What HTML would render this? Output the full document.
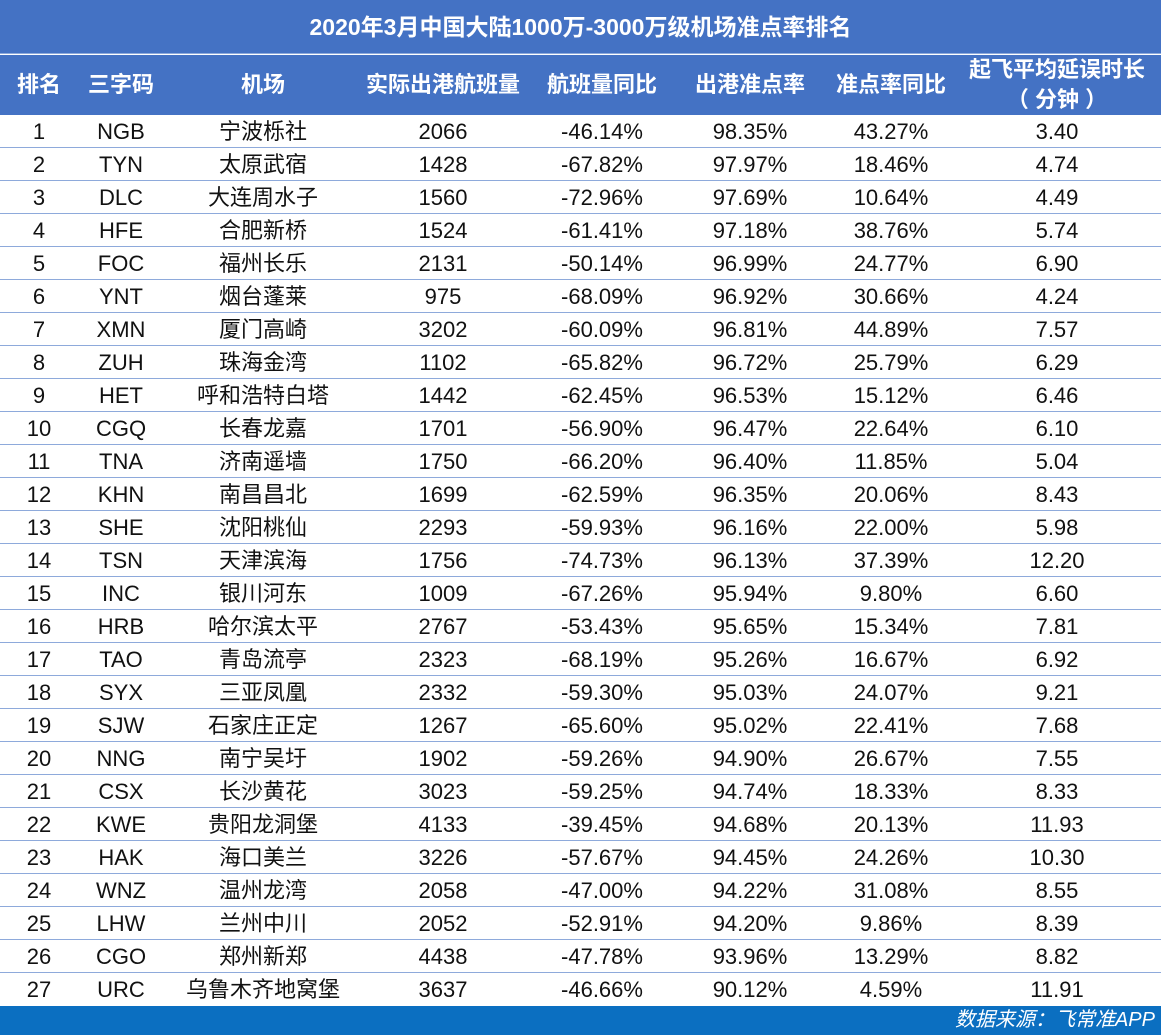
<!DOCTYPE html>
<html><head><meta charset="utf-8">
<style>
*{margin:0;padding:0;box-sizing:border-box}
body{width:1161px;height:1035px;background:#fff;position:relative;overflow:hidden;font-family:"Liberation Sans","Microsoft YaHei","Noto Sans CJK SC",sans-serif;color:#111}
.title{position:absolute;left:0;top:0;width:1161px;height:54px;background:#4472c4;color:#fff;font-weight:bold;font-size:23px;text-align:center;line-height:54px;border-bottom:1px solid #8eaadb}
.head{position:absolute;left:0;top:55px;width:1161px;height:60px;background:#4472c4;color:#fff;font-weight:bold;font-size:22px}
.head span{position:absolute;top:0;width:240px;text-align:center;line-height:60px}
.row{position:absolute;left:0;width:1161px;height:33px;border-bottom:1px solid #8eaadb;font-size:22px}
.row span{position:absolute;top:0;width:240px;text-align:center;line-height:33px}
.c1{left:-81px}.c2{left:1px}.c3{left:143px}.c4{left:323px}.c5{left:482px}.c6{left:630px}.c7{left:771px}.c8{left:937px}
.foot{position:absolute;left:0;top:1006px;width:1161px;height:29px;background:#0b6fc1;color:#fff;font-style:italic;font-size:20px;text-align:right;padding-right:6px;line-height:29px}
</style></head><body>
<div class="title">2020年3月中国大陆1000万-3000万级机场准点率排名</div>
<div class="head"><span class="c1">排名</span><span class="c2">三字码</span><span class="c3">机场</span><span class="c4">实际出港航班量</span><span class="c5">航班量同比</span><span class="c6">出港准点率</span><span class="c7">准点率同比</span><span class="c8" style="line-height:30px">起飞平均延误时长<br>（ 分钟 ）</span></div>
<div class="row" style="top:115px"><span class="c1">1</span><span class="c2">NGB</span><span class="c3">宁波栎社</span><span class="c4">2066</span><span class="c5">-46.14%</span><span class="c6">98.35%</span><span class="c7">43.27%</span><span class="c8">3.40</span></div>
<div class="row" style="top:148px"><span class="c1">2</span><span class="c2">TYN</span><span class="c3">太原武宿</span><span class="c4">1428</span><span class="c5">-67.82%</span><span class="c6">97.97%</span><span class="c7">18.46%</span><span class="c8">4.74</span></div>
<div class="row" style="top:181px"><span class="c1">3</span><span class="c2">DLC</span><span class="c3">大连周水子</span><span class="c4">1560</span><span class="c5">-72.96%</span><span class="c6">97.69%</span><span class="c7">10.64%</span><span class="c8">4.49</span></div>
<div class="row" style="top:214px"><span class="c1">4</span><span class="c2">HFE</span><span class="c3">合肥新桥</span><span class="c4">1524</span><span class="c5">-61.41%</span><span class="c6">97.18%</span><span class="c7">38.76%</span><span class="c8">5.74</span></div>
<div class="row" style="top:247px"><span class="c1">5</span><span class="c2">FOC</span><span class="c3">福州长乐</span><span class="c4">2131</span><span class="c5">-50.14%</span><span class="c6">96.99%</span><span class="c7">24.77%</span><span class="c8">6.90</span></div>
<div class="row" style="top:280px"><span class="c1">6</span><span class="c2">YNT</span><span class="c3">烟台蓬莱</span><span class="c4">975</span><span class="c5">-68.09%</span><span class="c6">96.92%</span><span class="c7">30.66%</span><span class="c8">4.24</span></div>
<div class="row" style="top:313px"><span class="c1">7</span><span class="c2">XMN</span><span class="c3">厦门高崎</span><span class="c4">3202</span><span class="c5">-60.09%</span><span class="c6">96.81%</span><span class="c7">44.89%</span><span class="c8">7.57</span></div>
<div class="row" style="top:346px"><span class="c1">8</span><span class="c2">ZUH</span><span class="c3">珠海金湾</span><span class="c4">1102</span><span class="c5">-65.82%</span><span class="c6">96.72%</span><span class="c7">25.79%</span><span class="c8">6.29</span></div>
<div class="row" style="top:379px"><span class="c1">9</span><span class="c2">HET</span><span class="c3">呼和浩特白塔</span><span class="c4">1442</span><span class="c5">-62.45%</span><span class="c6">96.53%</span><span class="c7">15.12%</span><span class="c8">6.46</span></div>
<div class="row" style="top:412px"><span class="c1">10</span><span class="c2">CGQ</span><span class="c3">长春龙嘉</span><span class="c4">1701</span><span class="c5">-56.90%</span><span class="c6">96.47%</span><span class="c7">22.64%</span><span class="c8">6.10</span></div>
<div class="row" style="top:445px"><span class="c1">11</span><span class="c2">TNA</span><span class="c3">济南遥墙</span><span class="c4">1750</span><span class="c5">-66.20%</span><span class="c6">96.40%</span><span class="c7">11.85%</span><span class="c8">5.04</span></div>
<div class="row" style="top:478px"><span class="c1">12</span><span class="c2">KHN</span><span class="c3">南昌昌北</span><span class="c4">1699</span><span class="c5">-62.59%</span><span class="c6">96.35%</span><span class="c7">20.06%</span><span class="c8">8.43</span></div>
<div class="row" style="top:511px"><span class="c1">13</span><span class="c2">SHE</span><span class="c3">沈阳桃仙</span><span class="c4">2293</span><span class="c5">-59.93%</span><span class="c6">96.16%</span><span class="c7">22.00%</span><span class="c8">5.98</span></div>
<div class="row" style="top:544px"><span class="c1">14</span><span class="c2">TSN</span><span class="c3">天津滨海</span><span class="c4">1756</span><span class="c5">-74.73%</span><span class="c6">96.13%</span><span class="c7">37.39%</span><span class="c8">12.20</span></div>
<div class="row" style="top:577px"><span class="c1">15</span><span class="c2">INC</span><span class="c3">银川河东</span><span class="c4">1009</span><span class="c5">-67.26%</span><span class="c6">95.94%</span><span class="c7">9.80%</span><span class="c8">6.60</span></div>
<div class="row" style="top:610px"><span class="c1">16</span><span class="c2">HRB</span><span class="c3">哈尔滨太平</span><span class="c4">2767</span><span class="c5">-53.43%</span><span class="c6">95.65%</span><span class="c7">15.34%</span><span class="c8">7.81</span></div>
<div class="row" style="top:643px"><span class="c1">17</span><span class="c2">TAO</span><span class="c3">青岛流亭</span><span class="c4">2323</span><span class="c5">-68.19%</span><span class="c6">95.26%</span><span class="c7">16.67%</span><span class="c8">6.92</span></div>
<div class="row" style="top:676px"><span class="c1">18</span><span class="c2">SYX</span><span class="c3">三亚凤凰</span><span class="c4">2332</span><span class="c5">-59.30%</span><span class="c6">95.03%</span><span class="c7">24.07%</span><span class="c8">9.21</span></div>
<div class="row" style="top:709px"><span class="c1">19</span><span class="c2">SJW</span><span class="c3">石家庄正定</span><span class="c4">1267</span><span class="c5">-65.60%</span><span class="c6">95.02%</span><span class="c7">22.41%</span><span class="c8">7.68</span></div>
<div class="row" style="top:742px"><span class="c1">20</span><span class="c2">NNG</span><span class="c3">南宁吴圩</span><span class="c4">1902</span><span class="c5">-59.26%</span><span class="c6">94.90%</span><span class="c7">26.67%</span><span class="c8">7.55</span></div>
<div class="row" style="top:775px"><span class="c1">21</span><span class="c2">CSX</span><span class="c3">长沙黄花</span><span class="c4">3023</span><span class="c5">-59.25%</span><span class="c6">94.74%</span><span class="c7">18.33%</span><span class="c8">8.33</span></div>
<div class="row" style="top:808px"><span class="c1">22</span><span class="c2">KWE</span><span class="c3">贵阳龙洞堡</span><span class="c4">4133</span><span class="c5">-39.45%</span><span class="c6">94.68%</span><span class="c7">20.13%</span><span class="c8">11.93</span></div>
<div class="row" style="top:841px"><span class="c1">23</span><span class="c2">HAK</span><span class="c3">海口美兰</span><span class="c4">3226</span><span class="c5">-57.67%</span><span class="c6">94.45%</span><span class="c7">24.26%</span><span class="c8">10.30</span></div>
<div class="row" style="top:874px"><span class="c1">24</span><span class="c2">WNZ</span><span class="c3">温州龙湾</span><span class="c4">2058</span><span class="c5">-47.00%</span><span class="c6">94.22%</span><span class="c7">31.08%</span><span class="c8">8.55</span></div>
<div class="row" style="top:907px"><span class="c1">25</span><span class="c2">LHW</span><span class="c3">兰州中川</span><span class="c4">2052</span><span class="c5">-52.91%</span><span class="c6">94.20%</span><span class="c7">9.86%</span><span class="c8">8.39</span></div>
<div class="row" style="top:940px"><span class="c1">26</span><span class="c2">CGO</span><span class="c3">郑州新郑</span><span class="c4">4438</span><span class="c5">-47.78%</span><span class="c6">93.96%</span><span class="c7">13.29%</span><span class="c8">8.82</span></div>
<div class="row" style="top:973px;border-bottom:none"><span class="c1">27</span><span class="c2">URC</span><span class="c3">乌鲁木齐地窝堡</span><span class="c4">3637</span><span class="c5">-46.66%</span><span class="c6">90.12%</span><span class="c7">4.59%</span><span class="c8">11.91</span></div>
<div class="foot">数据来源：飞常准APP</div>
</body></html>
